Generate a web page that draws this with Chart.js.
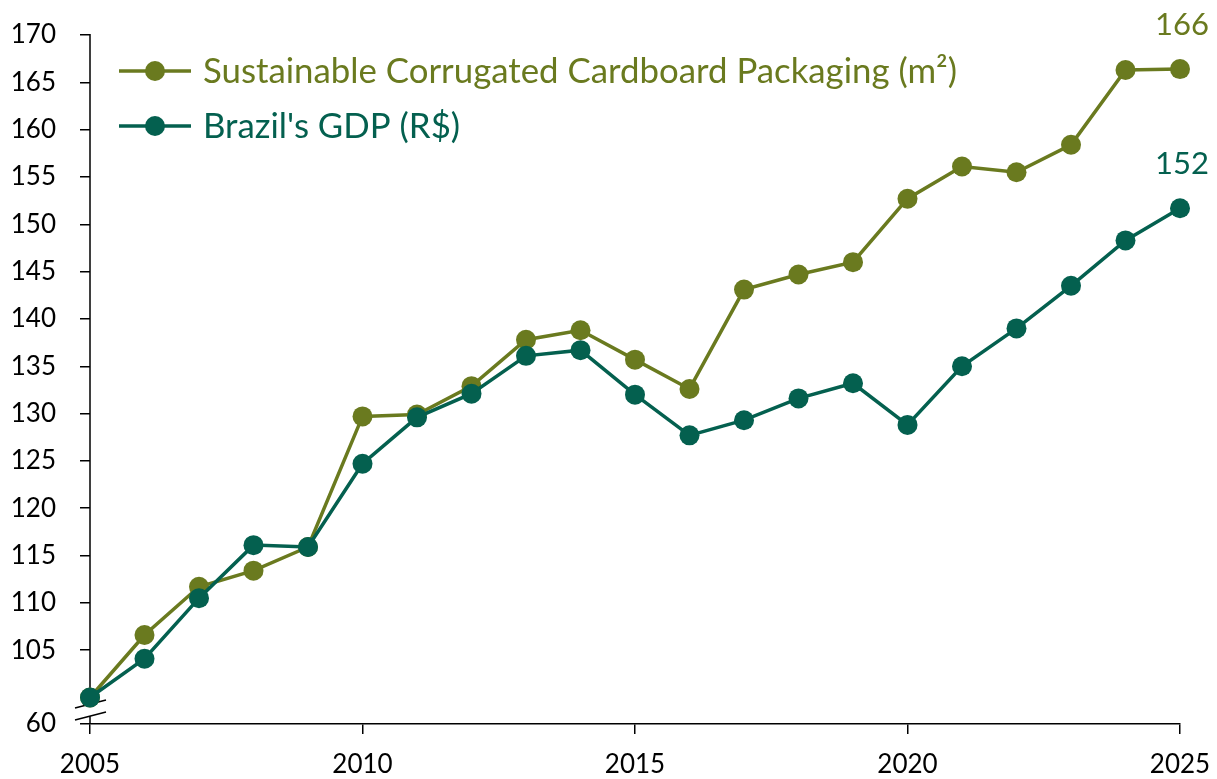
<!DOCTYPE html>
<html>
<head>
<meta charset="utf-8">
<script src="https://cdn.jsdelivr.net/npm/chart.js@4.4.1/dist/chart.umd.min.js"></script>
<style>
    body { margin: 0; background: #fff; }
    #box { width: 1217px; height: 779px; }
</style>
</head>
<body>
<div id="box"><canvas id="grafico"></canvas></div>
<script>
// ---- dados
const anos = [2005, 2006, 2007, 2008, 2009, 2010, 2011, 2012, 2013, 2014, 2015,
              2016, 2017, 2018, 2019, 2020, 2021, 2022, 2023, 2024, 2025];
const embalagem = [100, 106.6, 111.7, 113.4, 115.9, 129.7, 129.9, 132.9, 137.8, 138.8, 135.7,
                   132.6, 143.1, 144.7, 146.0, 152.7, 156.1, 155.5, 158.4, 166.3, 166.4];
const pib = [100, 104.1, 110.5, 116.1, 115.9, 124.7, 129.6, 132.1, 136.1, 136.7, 132.0,
             127.7, 129.3, 131.6, 133.2, 128.8, 135.0, 139.0, 143.5, 148.3, 151.7];

// eixo y quebrado: o primeiro tick fica logo abaixo de 100 e recebe o rótulo "60"
const yTickValues = [97.2, 105, 110, 115, 120, 125, 130, 135, 140, 145, 150, 155, 160, 165, 170];
const yTickLabels = ['60', '105', '110', '115', '120', '125', '130', '135', '140', '145',
                     '150', '155', '160', '165', '170'];
const xTickValues = [2005, 2010, 2015, 2020, 2025];

const nomes = ['Sustainable Corrugated Cardboard Packaging (m²)', "Brazil's GDP (R$)"];
const cores = ['#6A7A1F', '#04604F'];
const fonte = 'Lato, "Open Sans", sans-serif';

// ---- linha do eixo y com a quebra
const quebraEixo = {
    id: 'quebraEixo',
    beforeDatasetsDraw(chart) {
        const { ctx, chartArea, scales: { y } } = chart;
        const x0 = chartArea.left;
        const base = y.getPixelForValue(yTickValues[0]);
        ctx.save();
        ctx.strokeStyle = '#000';
        ctx.lineWidth = 1.5;
        ctx.beginPath();
        ctx.moveTo(x0, chartArea.top - 1);
        ctx.lineTo(x0, base - 20);
        ctx.moveTo(x0, base - 8);
        ctx.lineTo(x0, base);
        [base - 20, base - 8].forEach(yy => {
            ctx.moveTo(x0 - 15, yy + 4);
            ctx.lineTo(x0 + 16, yy - 4);
        });
        ctx.stroke();
        ctx.restore();
    }
};

// ---- valor do último ponto acima dele
const rotuloFinal = {
    id: 'rotuloFinal',
    afterDatasetsDraw(chart) {
        const ctx = chart.ctx;
        chart.data.datasets.forEach((ds, i) => {
            const pts = chart.getDatasetMeta(i).data;
            const p = pts[pts.length - 1];
            const valor = ds.data[ds.data.length - 1].y;
            ctx.save();
            ctx.fillStyle = ds.borderColor;
            ctx.font = '31px ' + fonte;
            ctx.textAlign = 'center';
            ctx.textBaseline = 'middle';
            ctx.fillText(Math.round(valor), p.x + 2, p.y - 44);
            ctx.restore();
        });
    }
};

// ---- legenda com linha + marcador
const legenda = {
    id: 'legenda',
    afterDraw(chart) {
        const ctx = chart.ctx;
        chart.data.datasets.forEach((ds, i) => {
            const yy = 71 + i * 55;
            ctx.save();
            ctx.strokeStyle = ds.borderColor;
            ctx.fillStyle = ds.borderColor;
            ctx.lineWidth = 3.5;
            ctx.beginPath();
            ctx.moveTo(119, yy);
            ctx.lineTo(191, yy);
            ctx.stroke();
            ctx.beginPath();
            ctx.arc(155, yy, 10, 0, Math.PI * 2);
            ctx.fill();
            ctx.font = '34.8px ' + fonte;
            ctx.textAlign = 'left';
            ctx.textBaseline = 'alphabetic';
            ctx.fillText(ds.label, 203, yy + 11.5);
            ctx.restore();
        });
    }
};

function serie(valores) {
    return anos.map((a, i) => ({ x: a, y: valores[i] }));
}

// tamanho fixo dos eixos, sem o recuo extra que o Chart.js põe pelos rótulos
function fixarEixo(axis, prop, tamanho) {
    axis[prop] = tamanho;
    axis.paddingLeft = 0;
    axis.paddingRight = 0;
    axis.paddingTop = 0;
    axis.paddingBottom = 0;
}

const ctx = document.getElementById('grafico').getContext('2d');
const grafico = new Chart(ctx, {
    type: 'line',
    data: {
        datasets: [{
            label: nomes[0],
            data: serie(embalagem),
            borderColor: cores[0],
            backgroundColor: cores[0],
            borderWidth: 3.5,
            pointRadius: 10,
            pointHoverRadius: 10,
            pointBorderWidth: 0,
            clip: false,
            order: 1
        }, {
            label: nomes[1],
            data: serie(pib),
            borderColor: cores[1],
            backgroundColor: cores[1],
            borderWidth: 3.5,
            pointRadius: 10,
            pointHoverRadius: 10,
            pointBorderWidth: 0,
            clip: false,
            order: 0
        }]
    },
    options: {
        responsive: true,
        maintainAspectRatio: false,
        animation: false,
        layout: { padding: { top: 35, right: 37, left: 0, bottom: 0 } },
        plugins: {
            legend: { display: false },
            tooltip: { enabled: false }
        },
        scales: {
            x: {
                type: 'linear',
                min: 2005,
                max: 2025,
                afterBuildTicks: axis => { axis.ticks = xTickValues.map(v => ({ value: v })); },
                afterFit: axis => fixarEixo(axis, 'height', 55),
                ticks: {
                    callback: v => String(v),
                    color: '#000',
                    font: { family: fonte, size: 26 },
                    padding: 15,
                    maxRotation: 0
                },
                grid: { drawOnChartArea: false, drawTicks: true, tickLength: 10, color: '#000', lineWidth: 1.5 },
                border: { display: true, color: '#000', width: 1.5 }
            },
            y: {
                min: yTickValues[0],
                max: 170,
                afterBuildTicks: axis => { axis.ticks = yTickValues.map(v => ({ value: v })); },
                afterFit: axis => fixarEixo(axis, 'width', 90),
                ticks: {
                    callback: (v, i) => yTickLabels[i],
                    color: '#000',
                    font: { family: fonte, size: 26 },
                    padding: 24
                },
                grid: { drawOnChartArea: false, drawTicks: true, tickLength: 10, color: '#000', lineWidth: 1.5 },
                border: { display: false }
            }
        }
    },
    plugins: [quebraEixo, rotuloFinal, legenda]
});
</script>
</body>
</html>
